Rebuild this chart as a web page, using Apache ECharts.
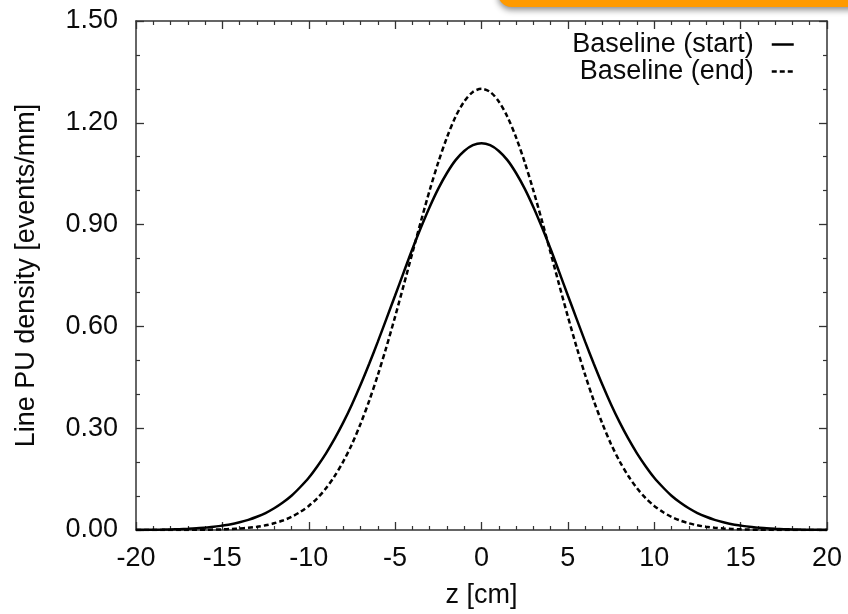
<!DOCTYPE html>
<html>
<head>
<meta charset="utf-8">
<script src="https://cdn.jsdelivr.net/npm/echarts@6/dist/echarts.min.js"></script>
<style>
html,body{margin:0;padding:0;background:#fff;}
#chart{width:848px;height:614px;}
</style>
</head>
<body>
<div id="chart"></div>
<script>
// z positions [cm]
const zValues = [-20,-19.5,-19,-18.5,-18,-17.5,-17,-16.5,-16,-15.5,-15,-14.5,-14,-13.5,-13,-12.5,-12,-11.5,-11,-10.5,-10,-9.5,-9,-8.5,-8,-7.5,-7,-6.5,-6,-5.5,-5,-4.5,-4,-3.5,-3,-2.5,-2,-1.5,-1,-0.5,
  0,0.5,1,1.5,2,2.5,3,3.5,4,4.5,5,5.5,6,6.5,7,7.5,8,8.5,9,9.5,10,10.5,11,11.5,12,12.5,13,13.5,14,14.5,15,15.5,16,16.5,17,17.5,18,18.5,19,19.5,20];
// Line PU density [events/mm]
const baselineStart = [0.0004,0.0006,0.0008,0.0012,0.0017,0.0025,0.0035,0.0049,0.007,0.0093,0.013,0.017,0.023,0.030,0.039,0.050,0.064,0.081,0.101,0.126,0.154,0.188,0.226,0.269,0.317,0.370,0.428,0.490,0.555,0.623,0.691,0.760,0.828,0.892,0.952,1.006,1.052,1.090,1.117,1.134,
  1.140,1.134,1.117,1.090,1.052,1.006,0.952,0.892,0.828,0.760,0.691,0.623,0.555,0.490,0.428,0.370,0.317,0.269,0.226,0.188,0.154,0.126,0.101,0.081,0.064,0.050,0.039,0.030,0.023,0.017,0.013,0.0093,0.007,0.0049,0.0035,0.0025,0.0017,0.0012,0.0008,0.0006,0.0004];
const baselineEnd = [0.00001,0.00002,0.00003,0.00005,0.0001,0.0002,0.0003,0.0005,0.0008,0.0012,0.0019,0.0029,0.0044,0.0065,0.0096,0.0138,0.0198,0.028,0.0386,0.053,0.071,0.094,0.123,0.159,0.202,0.253,0.313,0.381,0.457,0.540,0.629,0.722,0.817,0.911,1.001,1.084,1.157,1.218,1.263,1.291,
  1.300,1.291,1.263,1.218,1.157,1.084,1.001,0.911,0.817,0.722,0.629,0.540,0.457,0.381,0.313,0.253,0.202,0.159,0.123,0.094,0.071,0.053,0.0386,0.028,0.0198,0.0138,0.0096,0.0065,0.0044,0.0029,0.0019,0.0012,0.0008,0.0005,0.0003,0.0002,0.0001,0.00005,0.00003,0.00002,0.00001];
const seriesNames = ['Baseline (start)', 'Baseline (end)'];
const xTicks = {min: -20, max: 20, interval: 5};
const yTicks = {min: 0, max: 1.5, interval: 0.3};

const FONT = '"Liberation Sans", Arial, Helvetica, sans-serif';
const FS = 27;
const AX = '#333';

function pairs(ys){ return zValues.map((z,i)=>[z, ys[i]]); }

function xAxisCfg(pos, labels){
  return {
    type:'value', position:pos, min:xTicks.min, max:xTicks.max, interval:xTicks.interval,
    axisLine:{show:true, onZero:false, lineStyle:{color:AX, width:1.5}},
    axisTick:{show:true, inside:true, length:8, lineStyle:{color:AX, width:1.3}},
    minorTick:{show:true, splitNumber:5, length:4, lineStyle:{color:AX, width:1.2}},
    splitLine:{show:false}, minorSplitLine:{show:false},
    axisLabel:{show:labels, fontSize:FS, color:'#0a0a0a', fontFamily:FONT, margin:15},
    name: labels ? 'z [cm]' : '', nameLocation:'middle', nameGap:52,
    nameTextStyle:{fontSize:FS, color:'#0a0a0a', fontFamily:FONT}
  };
}
function yAxisCfg(pos, labels){
  return {
    type:'value', position:pos, min:yTicks.min, max:yTicks.max, interval:yTicks.interval,
    axisLine:{show:true, onZero:false, lineStyle:{color:AX, width:1.5}},
    axisTick:{show:true, inside:true, length:8, lineStyle:{color:AX, width:1.3}},
    minorTick:{show:true, splitNumber:3, length:4, lineStyle:{color:AX, width:1.2}},
    splitLine:{show:false}, minorSplitLine:{show:false},
    axisLabel:{show:labels, fontSize:FS, color:'#0a0a0a', fontFamily:FONT, margin:18,
      formatter:v=>v.toFixed(2)},
    name: labels ? 'Line PU density [events/mm]' : '', nameLocation:'middle', nameGap:96,
    nameTextStyle:{fontSize:FS, color:'#0a0a0a', fontFamily:FONT}
  };
}

const chart = echarts.init(document.getElementById('chart'), null, {renderer:'canvas'});
chart.setOption({
  backgroundColor:'#fff',
  animation:false,
  grid:{left:136, top:21, right:21, bottom:83, containLabel:false},
  xAxis:[xAxisCfg('bottom', true), xAxisCfg('top', false)],
  yAxis:[yAxisCfg('left', true), yAxisCfg('right', false)],
  legend:{
    orient:'vertical', right:53, top:31, align:'right', padding:0,
    itemWidth:22, itemHeight:10, itemGap:0,
    itemStyle:{opacity:0},
    lineStyle:{width:2.5},
    textStyle:{fontSize:FS, color:'#0a0a0a', fontFamily:FONT, lineHeight:26, padding:[0,13,0,0]},
    data:seriesNames
  },
  series:[
    {name:seriesNames[0], type:'line', data:pairs(baselineStart), smooth:0.3, showSymbol:false, symbol:'none',
      lineStyle:{color:'#000', width:2.5, type:'solid'}, itemStyle:{color:'#000'}},
    {name:seriesNames[1], type:'line', data:pairs(baselineEnd), smooth:0.3, showSymbol:false, symbol:'none',
      lineStyle:{color:'#000', width:2.5, type:[5,3]}, itemStyle:{color:'#000'}}
  ],
  graphic:[
    {type:'rect', left:498, top:-20, shape:{width:380, height:27, r:14}, z:100,
      style:{fill:'#FF9A00', shadowBlur:6, shadowColor:'rgba(0,0,0,0.45)', shadowOffsetY:3}}
  ]
});
</script>
</body>
</html>
